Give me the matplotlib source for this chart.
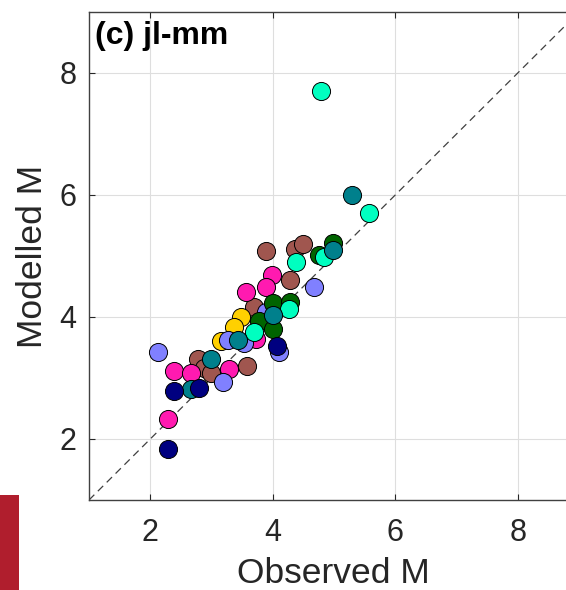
import matplotlib
matplotlib.use("Agg")
import matplotlib.pyplot as plt
from matplotlib.patches import Rectangle

plt.rcParams['font.family'] = ['Liberation Sans', 'DejaVu Sans']

# Observed / modelled M per group (colour)
brown_obs = [3.89, 4.37, 4.49, 4.28, 3.70, 3.58, 2.78, 2.88, 2.99]
brown_mod = [5.08, 5.11, 5.20, 4.61, 4.17, 3.19, 3.31, 3.17, 3.09]

magenta_obs = [3.99, 3.89, 3.57, 3.72, 3.29, 2.39, 2.67, 2.29]
magenta_mod = [4.69, 4.50, 4.41, 3.64, 3.14, 3.11, 3.09, 2.33]

gold_obs = [3.48, 3.37, 3.16]
gold_mod = [4.00, 3.84, 3.60]

lpurple_obs = [2.13, 4.68, 4.10, 3.19, 3.27, 3.53, 3.89]
lpurple_mod = [3.42, 4.50, 3.43, 2.93, 3.63, 3.58, 4.08]

dgreen_obs = [4.00, 4.28, 3.78, 4.00, 4.76, 4.99]
dgreen_mod = [4.23, 4.25, 3.93, 3.80, 5.02, 5.21]

aqua_obs = [4.79, 5.57, 4.38, 4.84, 4.27, 3.69]
aqua_mod = [7.71, 5.70, 4.90, 4.99, 4.13, 3.76]

teal_obs = [5.29, 4.99, 4.00, 3.43, 2.99, 2.67]
teal_mod = [6.00, 5.10, 4.04, 3.63, 3.31, 2.82]

navy_obs = [4.07, 2.38, 2.80, 2.29]
navy_mod = [3.52, 2.78, 2.83, 1.84]

groups = [
    (brown_obs, brown_mod, '#A0564F'),
    (magenta_obs, magenta_mod, '#FF1AB0'),
    (gold_obs, gold_mod, '#FFD000'),
    (lpurple_obs, lpurple_mod, '#8080FF'),
    (dgreen_obs, dgreen_mod, '#006400'),
    (aqua_obs, aqua_mod, '#00FFC0'),
    (teal_obs, teal_mod, '#00808C'),
    (navy_obs, navy_mod, '#000080'),
]

xticks = [2, 4, 6, 8]
yticks = [2, 4, 6, 8]
lims = [1, 9]

fig = plt.figure(figsize=(5.66, 5.90), dpi=100)
ax = fig.add_axes([89/566, 90/590, 490/566, 488/590])

ax.plot(lims, lims, linestyle=(0, (6, 4)), color='#404040', lw=0.9, zorder=2)
for xo, ym, c in groups:
    ax.scatter(xo, ym, s=170, c=c, edgecolors='black', linewidths=0.7, zorder=3)

ax.set_xlim(lims)
ax.set_ylim(lims)
ax.set_xticks(xticks)
ax.set_yticks(yticks)
ax.grid(True, color='#DEDEDE', lw=0.8, zorder=0)
ax.set_axisbelow(True)
ax.tick_params(direction='in', length=4, width=0.8, top=True, right=True,
               labelsize=22, colors='#262626')
ax.tick_params(axis='x', pad=13)
ax.tick_params(axis='y', pad=9)
for s in ax.spines.values():
    s.set_color('#404040')
    s.set_linewidth(1.0)

ax.set_xlabel('Observed M', fontsize=25.5, color='#262626', va='center')
ax.xaxis.set_label_coords(0.498, -0.150)
ax.set_ylabel('Modelled M', fontsize=25.5, color='#262626', va='center')
ax.yaxis.set_label_coords(-0.116, 0.5)

ax.text(0.012, 0.950, '(c) jl-mm', transform=ax.transAxes, fontsize=23,
        fontweight='bold', color='black', ha='left', va='center')

fig.patches.append(Rectangle((0, 0), 19/566, 95/590, transform=fig.transFigure,
                             facecolor='#B01E2D', edgecolor='none', zorder=5))

fig.savefig('out.png', dpi=100)
